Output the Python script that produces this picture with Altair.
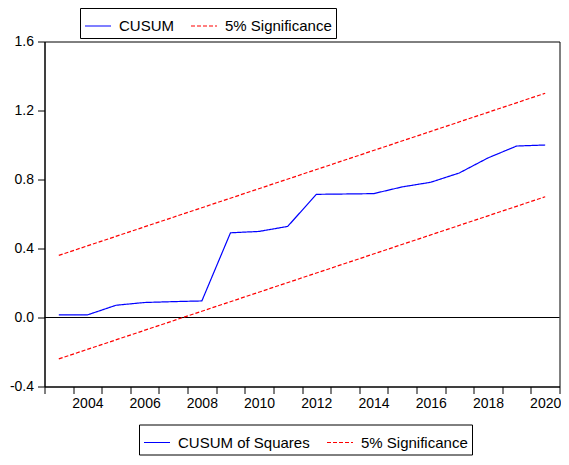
import altair as alt
import pandas as pd

FONT = "Liberation Sans, Arial, sans-serif"

# ---- data ----
years = list(range(2003, 2021))
cusum_sq = [0.015, 0.015, 0.071, 0.087, 0.092, 0.096, 0.491, 0.499, 0.528,
            0.714, 0.716, 0.718, 0.757, 0.784, 0.838, 0.925, 0.994, 1.000]
bound_years = [2003, 2020]
upper_vals = [0.36, 1.30]
lower_vals = [-0.24, 0.70]

y_ticks = [-0.4, 0.0, 0.4, 0.8, 1.2, 1.6]
x_label_years = [2004, 2006, 2008, 2010, 2012, 2014, 2016, 2018, 2020]

main_series = ["CUSUM of Squares", "5% Significance"]
top_series = ["CUSUM", "5% Significance"]
colors = ["#0000FF", "#FF0000"]
dashes = [[1, 0], [4, 2]]

rows = []
for yr, v in zip(years, cusum_sq):
    rows.append({"year": yr, "value": v, "series": main_series[0], "line": "cusum"})
for yr, v in zip(bound_years, upper_vals):
    rows.append({"year": yr, "value": v, "series": main_series[1], "line": "upper"})
for yr, v in zip(bound_years, lower_vals):
    rows.append({"year": yr, "value": v, "series": main_series[1], "line": "lower"})
df = pd.DataFrame(rows)

# one point per series -> nothing drawn, only feeds the upper legend box
top_df = pd.DataFrame({"year": [years[0]] * 2, "value": [0.0, 0.0], "series2": top_series})

W, H = 515, 345
px_year = W / len(years)

tick_positions = [years[0] - 0.5 + i for i in range(len(years) + 1)]
label_list = "[" + ",".join(str(y) for y in x_label_years) + "]"

x_scale = alt.Scale(domain=[years[0] - 0.5, years[-1] + 0.5], nice=False, zero=False)
y_scale = alt.Scale(domain=[y_ticks[0], y_ticks[-1]], nice=False, zero=False)

x_axis = alt.Axis(
    orient="bottom",
    values=tick_positions,
    labelExpr=f"indexof({label_list}, datum.value + 0.5) >= 0 ? '' + (datum.value + 0.5) : ''",
    labelOffset=px_year / 2,
    tickSize=7, labelPadding=3, title=None, grid=False,
    labelOverlap=False, labelBound=False, labelFlush=False,
)
y_axis = alt.Axis(
    orient="left",
    values=y_ticks,
    labelExpr="(datum.value < 0 ? '-' : '') + format(abs(datum.value), '.1f')",
    tickSize=7, labelPadding=4, title=None, grid=False,
    labelOverlap=False, labelBound=False, labelFlush=False,
)

def make_legend(lx, ly):
    return alt.Legend(
        title=None, orient="none", legendX=lx, legendY=ly, direction="horizontal",
        columns=2, symbolType="stroke", symbolSize=676, symbolStrokeWidth=1.2,
        labelFontSize=15, labelFont=FONT, labelColor="black",
        strokeColor="black", fillColor="white", padding=4, columnPadding=14,
        labelOffset=7, cornerRadius=0,
    )

leg_bottom = make_legend(94.5, 383)
leg_top = make_legend(35.5, -33.5)

zero = alt.Chart(pd.DataFrame({"z": [0]})).mark_rule(color="black", strokeWidth=1).encode(
    y=alt.datum(0, scale=y_scale, axis=None)
)

lines = alt.Chart(df).mark_line(strokeWidth=1.2).encode(
    x=alt.X("year:Q", scale=x_scale, axis=x_axis),
    y=alt.Y("value:Q", scale=y_scale, axis=y_axis),
    color=alt.Color("series:N", scale=alt.Scale(domain=main_series, range=colors), legend=leg_bottom),
    strokeDash=alt.StrokeDash("series:N", scale=alt.Scale(domain=main_series, range=dashes), legend=leg_bottom),
    detail="line:N",
)

top = alt.Chart(top_df).mark_line(strokeWidth=1.2).encode(
    x=alt.X("year:Q", scale=x_scale, axis=None),
    y=alt.Y("value:Q", scale=y_scale, axis=None),
    color=alt.Color("series2:N", scale=alt.Scale(domain=top_series, range=colors), legend=leg_top),
    strokeDash=alt.StrokeDash("series2:N", scale=alt.Scale(domain=top_series, range=dashes), legend=leg_top),
)

chart = (
    alt.layer(zero, lines, top)
    .resolve_scale(color="independent", strokeDash="independent")
    .resolve_axis(x="independent", y="independent")
    .properties(
        width=W, height=H,
        autosize=alt.AutoSizeParams(type="none"),
        padding={"left": 36.5, "top": 33.5, "right": 1.5, "bottom": 449 - 33.5 - H},
        background="white",
    )
    .configure_view(stroke="black", strokeWidth=1)
    .configure_axis(
        labelFont=FONT, labelFontSize=14, labelColor="black",
        domainColor="black", domainWidth=1, tickColor="black", tickWidth=1,
    )
)

chart.save("out.html", embed_options={"renderer": "svg", "actions": False})
